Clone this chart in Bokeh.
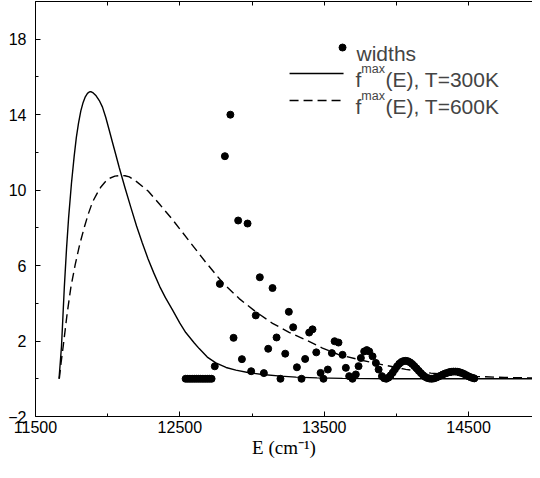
from bokeh.plotting import figure
from bokeh.models import FixedTicker, LinearAxis, Label, Range1d
from bokeh.embed import file_html
from bokeh.resources import INLINE

# ---------------- data ----------------
x_ticks = [11500, 12500, 13500, 14500]
x_minor = [12000, 13000, 14000]
y_ticks = [-2, 2, 6, 10, 14, 18]
y_minor = [0, 4, 8, 12, 16, 20]

# f^max(E), T=300K (solid)
solid_E = [11663, 11672, 11680, 11690, 11700, 11715, 11729, 11749, 11768, 11783,
           11798, 11814, 11830, 11845, 11860, 11872, 11883, 11900, 11920, 11942,
           11964, 11987, 12010, 12033, 12056, 12080, 12121, 12160, 12200, 12240,
           12280, 12320, 12360, 12400, 12449, 12500, 12541, 12600, 12634, 12690,
           12749, 12820, 12888, 12980, 13073, 13200, 13304, 13450, 13627, 13800,
           14000, 14500, 14943]
solid_f = [0.0, 0.9, 1.71, 3.3, 4.9, 6.9, 8.5, 10.35, 11.8, 12.8,
           13.55, 14.2, 14.65, 14.95, 15.13, 15.2, 15.22, 15.15, 15.0, 14.75,
           14.4, 13.85, 13.2, 12.54, 11.89, 11.2, 10.1, 9.1, 8.1, 7.2,
           6.35, 5.6, 4.9, 4.3, 3.65, 2.95, 2.45, 1.9, 1.6, 1.15,
           0.84, 0.6, 0.46, 0.32, 0.23, 0.14, 0.09, 0.05, 0.02, 0.01,
           0.0, 0.0, 0.0]

# f^max(E), T=600K (dashed)
dash_E = [11665, 11678, 11692, 11720, 11745, 11775, 11805, 11837, 11865, 11895,
          11925, 11953, 11982, 12011, 12050, 12090, 12120, 12150, 12200, 12280,
          12360, 12449, 12565, 12680, 12796, 12911, 13026, 13142, 13257, 13373,
          13488, 13604, 13743, 13900, 14065, 14239, 14400, 14551, 14750, 14943]
dash_f = [0.0, 0.9, 1.73, 3.5, 4.85, 6.05, 7.08, 8.0, 8.72, 9.37,
          9.8, 10.17, 10.43, 10.62, 10.74, 10.78, 10.76, 10.7, 10.45, 9.95,
          9.25, 8.44, 7.3, 6.17, 5.1, 4.25, 3.55, 2.94, 2.46, 2.06,
          1.63, 1.27, 1.01, 0.75, 0.5, 0.3, 0.19, 0.12, 0.07, 0.04]

# widths (dots)
widths_E = [12540, 12555, 12570, 12585, 12600, 12615, 12630, 12645, 12660, 12675,
            12690, 12705, 12720,
            12742, 12777, 12812, 12850, 12872, 12904, 12930, 12969, 12994, 13026,
            13054, 13082, 13112, 13142, 13170, 13197, 13230, 13255, 13285, 13311,
            13343, 13368, 13396, 13419, 13445, 13475, 13495, 13525, 13553, 13572,
            13599, 13627, 13650, 13673, 13696, 13719, 13738, 13754, 13777, 13795,
            13812, 13835, 13858, 13877, 13900, 13915,
            13930, 13945, 13960, 13975, 13990, 14005, 14020, 14035, 14050, 14065,
            14080, 14095, 14110, 14125, 14140, 14155, 14170, 14185, 14200, 14215,
            14230, 14245, 14260, 14275, 14290, 14305, 14320, 14335, 14350, 14365,
            14380, 14395, 14410, 14425, 14440, 14455, 14470, 14485, 14500, 14515,
            14530, 14540]
widths_w = [0.0, 0.0, 0.0, 0.0, 0.0, 0.0, 0.0, 0.0, 0.0, 0.0,
            0.0, 0.0, 0.0,
            0.66, 5.03, 11.8, 14.0, 2.17, 8.39, 1.04, 8.23, 0.4, 3.36,
            5.38, 0.3, 1.59, 4.81, 2.19, 0.0, 1.33, 3.55, 2.73, 0.61,
            0.0, 1.05, 2.45, 2.62, 1.4, 0.31, 0.0, 0.49, 1.36, 1.99,
            1.92, 1.27, 0.58, 0.14, 0.0, 0.23, 0.67, 1.1, 1.45, 1.52,
            1.45, 1.19, 0.84, 0.49, 0.14, 0.03,
            0.0, 0.06, 0.18, 0.33, 0.5, 0.66, 0.8, 0.89, 0.94, 0.95,
            0.93, 0.87, 0.78, 0.67, 0.55, 0.42, 0.3, 0.19, 0.1, 0.04,
            0.01, 0.0, 0.02, 0.06, 0.11, 0.16, 0.22, 0.27, 0.31, 0.35,
            0.37, 0.38, 0.38, 0.37, 0.34, 0.3, 0.25, 0.19, 0.13, 0.08,
            0.04, 0.02]

legend_texts = ["widths", "(E), T=300K", "(E), T=600K"]
x_title = "E (cm\u207b\u00b9)"

# ---------------- figure ----------------
SANS = "Liberation Sans"
SERIF = "Liberation Serif"

p = figure(width=532, height=462, output_backend="svg", toolbar_location=None,
           x_range=Range1d(11500, 14943), y_range=Range1d(-2, 20),
           min_border_left=35, min_border_right=0, min_border_top=1,
           min_border_bottom=46)
p.outline_line_color = None
p.grid.visible = False
p.background_fill_color = "white"
p.border_fill_color = "white"


def style_axis(ax):
    ax.axis_line_color = "black"
    ax.axis_line_width = 1
    ax.major_tick_line_color = "black"
    ax.minor_tick_line_color = "black"
    ax.major_tick_in = 5
    ax.major_tick_out = 0
    ax.minor_tick_in = 3
    ax.minor_tick_out = 0
    ax.major_label_text_font = SANS
    ax.major_label_text_color = "black"
    ax.major_label_text_font_size = "16px"


p.xaxis.ticker = FixedTicker(ticks=x_ticks, minor_ticks=x_minor)
p.yaxis.ticker = FixedTicker(ticks=y_ticks, minor_ticks=y_minor)
style_axis(p.xaxis[0])
style_axis(p.yaxis[0])
p.xaxis.major_label_standoff = 4
p.yaxis.major_label_standoff = 9
p.xaxis.axis_label = x_title
p.xaxis.axis_label_text_font = SERIF
p.xaxis.axis_label_text_font_size = "19px"
p.xaxis.axis_label_text_font_style = "normal"
p.xaxis.axis_label_text_color = "black"
p.xaxis.axis_label_standoff = 1

# top frame line with inward ticks (no labels)
top = LinearAxis(ticker=FixedTicker(ticks=[], minor_ticks=x_ticks + x_minor))
top.axis_line_color = "black"
top.minor_tick_line_color = "black"
top.minor_tick_in = 4
top.minor_tick_out = 0
top.major_tick_in = 0
top.major_tick_out = 0
top.major_label_standoff = 0
p.add_layout(top, "above")

# curves and points
p.line(solid_E, solid_f, line_color="black", line_width=1.4)
p.line(dash_E, dash_f, line_color="black", line_width=1.4, line_dash="9 5")
p.scatter(widths_E, widths_w, size=7, color="black")

# legend keys (layout positions)
p.scatter([13627], [17.56], size=7, color="black")
p.line([13260, 13634], [16.18, 16.18], line_color="black", line_width=1.4)
p.line([13260, 13634], [14.75, 14.75], line_color="black", line_width=1.4,
       line_dash="9 5")

LEG = "21px"
p.add_layout(Label(x=13724, y=17.24, text=legend_texts[0], text_font=SANS,
                   text_font_size=LEG, text_baseline="alphabetic"))
for yb, ys, txt in [(15.86, 16.42, legend_texts[1]), (14.43, 14.99, legend_texts[2])]:
    p.add_layout(Label(x=13717, y=yb, text="f", text_font=SANS,
                       text_font_size=LEG, text_baseline="alphabetic"))
    p.add_layout(Label(x=13757, y=ys, text="max", text_font=SANS,
                       text_font_size="12.5px", text_baseline="alphabetic"))
    p.add_layout(Label(x=13925, y=yb, text=txt, text_font=SANS,
                       text_font_size=LEG, text_baseline="alphabetic"))

open("out.html", "w").write(file_html(p, INLINE))
